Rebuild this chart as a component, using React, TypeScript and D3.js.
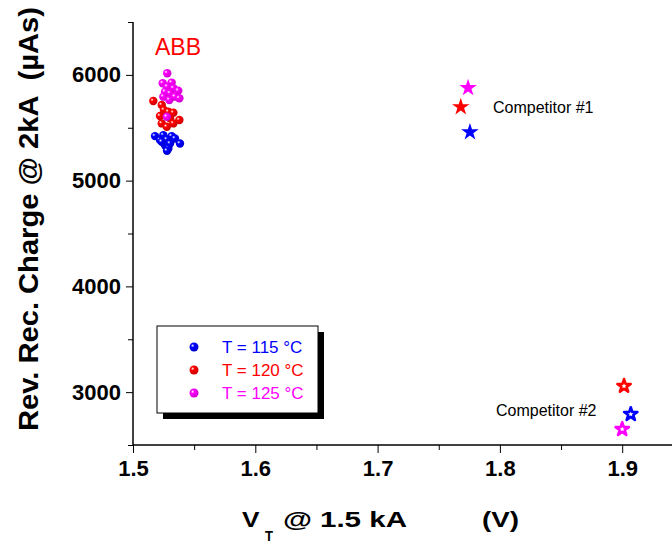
import React, { useEffect, useRef } from "react";
import * as d3 from "d3";

// ABB measurements, [VT, Qrr]
const abb115: [number, number][] = [
  [1.518, 5421], [1.5248, 5430], [1.5316, 5421], [1.5221, 5383], [1.5276, 5389],
  [1.5343, 5399], [1.5384, 5351], [1.5262, 5335], [1.5303, 5351], [1.5289, 5304],
  [1.5235, 5367], [1.5278, 5282],
];
const abb120: [number, number][] = [
  [1.5166, 5753], [1.5235, 5715], [1.5253, 5668], [1.5289, 5651], [1.533, 5642],
  [1.5221, 5611], [1.5303, 5589], [1.5379, 5573], [1.5235, 5541], [1.5276, 5509],
  [1.533, 5541],
];
const abb125: [number, number][] = [
  [1.528, 6016], [1.5243, 5921], [1.5316, 5927], [1.528, 5889], [1.533, 5874],
  [1.5262, 5841], [1.5303, 5826], [1.537, 5851], [1.5343, 5794], [1.5248, 5794],
  [1.5379, 5779], [1.5297, 5763], [1.5276, 5604],
];
// competitors: [VT, Qrr] for 115 / 120 / 125 °C
const comp1: [number, number][] = [[1.7755, 5459], [1.768, 5696], [1.774, 5877]];
const comp2: [number, number][] = [[1.907, 2791], [1.9015, 3057], [1.9, 2649]];

const colors = ["#0000ff", "#ff0000", "#ff00ff"];
const legendLabels = ["T = 115 °C", "T = 120 °C", "T = 125 °C"];
const xTicks = [1.5, 1.6, 1.7, 1.8, 1.9];
const yTicks = [3000, 4000, 5000, 6000];

const W = 672, H = 545;
const m = { left: 133, top: 22, right: 672, bottom: 445 };

const App = () => {
  const ref = useRef<SVGSVGElement>(null);

  useEffect(() => {
    const svg = d3.select(ref.current);
    svg.selectAll("*").remove();

    const x = d3.scaleLinear().domain([1.5, 1.94]).range([m.left, m.left + 0.44 * 1223]);
    const y = d3.scaleLinear().domain([2500, 6500]).range([m.bottom, m.top]);

    const defs = svg.append("defs");
    colors.forEach((c, i) => {
      const g = defs.append("radialGradient").attr("id", "ball" + i)
        .attr("cx", "35%").attr("cy", "35%").attr("r", "65%");
      g.append("stop").attr("offset", "0%").attr("stop-color", "#ffffff");
      g.append("stop").attr("offset", "30%").attr("stop-color", c);
      g.append("stop").attr("offset", "100%").attr("stop-color", d3.color(c)!.darker(0.6).toString());
    });

    const font = "Arial, 'Liberation Sans', sans-serif";

    // axes
    const yAxis = d3.axisLeft(y).tickValues(yTicks).tickSize(7).tickPadding(5).tickFormat(d3.format("d"));
    const gy = svg.append("g").attr("transform", `translate(${m.left},0)`).call(yAxis);
    const yMinor = d3.axisLeft(y).tickValues([2500, 3500, 4500, 5500, 6500]).tickSize(5).tickFormat(() => "");
    svg.append("g").attr("transform", `translate(${m.left},0)`).call(yMinor).select(".domain").remove();

    const xAxis = d3.axisBottom(x).tickValues(xTicks).tickSize(8).tickPadding(7).tickFormat(d3.format(".1f"));
    const gx = svg.append("g").attr("transform", `translate(0,${m.bottom})`).call(xAxis);
    const xMinor = d3.axisBottom(x).tickValues([1.55, 1.65, 1.75, 1.85]).tickSize(5).tickFormat(() => "");
    svg.append("g").attr("transform", `translate(0,${m.bottom})`).call(xMinor).select(".domain").remove();

    [gx, gy].forEach((g) => {
      g.select(".domain").remove();
      g.selectAll("text").attr("font-family", font).attr("font-weight", "bold")
        .attr("font-size", 22).attr("fill", "#000");
    });
    svg.append("line").attr("x1", m.left).attr("x2", m.left).attr("y1", m.top).attr("y2", m.bottom)
      .attr("stroke", "#000").attr("stroke-width", 1.5);
    svg.append("line").attr("x1", m.left).attr("x2", W).attr("y1", m.bottom).attr("y2", m.bottom)
      .attr("stroke", "#000").attr("stroke-width", 1.5);

    // axis titles
    svg.append("text").attr("transform", `translate(38,219) rotate(-90)`)
      .attr("text-anchor", "middle").attr("font-family", font).attr("font-weight", "bold")
      .attr("font-size", 28).attr("textLength", 424).attr("lengthAdjust", "spacingAndGlyphs")
      .attr("xml:space", "preserve").text("Rev. Rec. Charge @ 2kA  (µAs)");
    const tb = (tx: number, ty: number, s: string, len: number, fs = 22) =>
      svg.append("text").attr("x", tx).attr("y", ty).attr("font-family", font)
        .attr("font-weight", "bold").attr("font-size", fs)
        .attr("textLength", len).attr("lengthAdjust", "spacingAndGlyphs").text(s);
    tb(242, 527, "V", 17.5);
    tb(265, 541, "T", 8, 14);
    tb(283, 527, "@", 29);
    tb(320, 527, "1.5 kA", 87);
    tb(482, 527, "(V)", 37);

    // ABB balls
    [abb115, abb120, abb125].forEach((set, i) => {
      svg.append("g").selectAll("circle").data(set).join("circle")
        .attr("cx", (d) => x(d[0])).attr("cy", (d) => y(d[1])).attr("r", 4.2)
        .attr("fill", `url(#ball${i})`);
    });

    svg.append("text").attr("x", 155).attr("y", 55).attr("fill", "#ff0000")
      .attr("font-family", font).attr("font-size", 23).text("ABB");

    // competitor stars
    const star = d3.symbol().type(d3.symbolStar).size(95);
    svg.append("g").selectAll("path").data(comp1).join("path")
      .attr("d", star).attr("transform", (d) => `translate(${x(d[0])},${y(d[1])})`)
      .attr("fill", (_d, i) => colors[i]);
    const star2 = d3.symbol().type(d3.symbolStar).size(55);
    svg.append("g").selectAll("path").data(comp2).join("path")
      .attr("d", star2).attr("transform", (d) => `translate(${x(d[0])},${y(d[1])})`)
      .attr("fill", "#fff").attr("stroke", (_d, i) => colors[i]).attr("stroke-width", 2.6)
      .attr("stroke-linejoin", "round");

    svg.append("text").attr("x", 493).attr("y", 113).attr("font-family", font)
      .attr("font-size", 16).text("Competitor #1");
    svg.append("text").attr("x", 496).attr("y", 416).attr("font-family", font)
      .attr("font-size", 16).text("Competitor #2");

    // legend
    const lg = svg.append("g").attr("transform", "translate(157,326)");
    lg.append("rect").attr("x", 6).attr("y", 6).attr("width", 161).attr("height", 87).attr("fill", "#000");
    lg.append("rect").attr("width", 161).attr("height", 87).attr("fill", "#fff")
      .attr("stroke", "#000").attr("stroke-width", 1);
    legendLabels.forEach((lab, i) => {
      lg.append("circle").attr("cx", 37).attr("cy", 21 + i * 23).attr("r", 4.5).attr("fill", `url(#ball${i})`);
      lg.append("text").attr("x", 65).attr("y", 27 + i * 23).attr("fill", colors[i])
        .attr("font-family", font).attr("font-size", 17).text(lab);
    });
  }, []);

  return (
    <svg ref={ref} width={W} height={H}
      style={{ position: "fixed", left: 0, top: 0, background: "#fff" }} />
  );
};

export default App;
